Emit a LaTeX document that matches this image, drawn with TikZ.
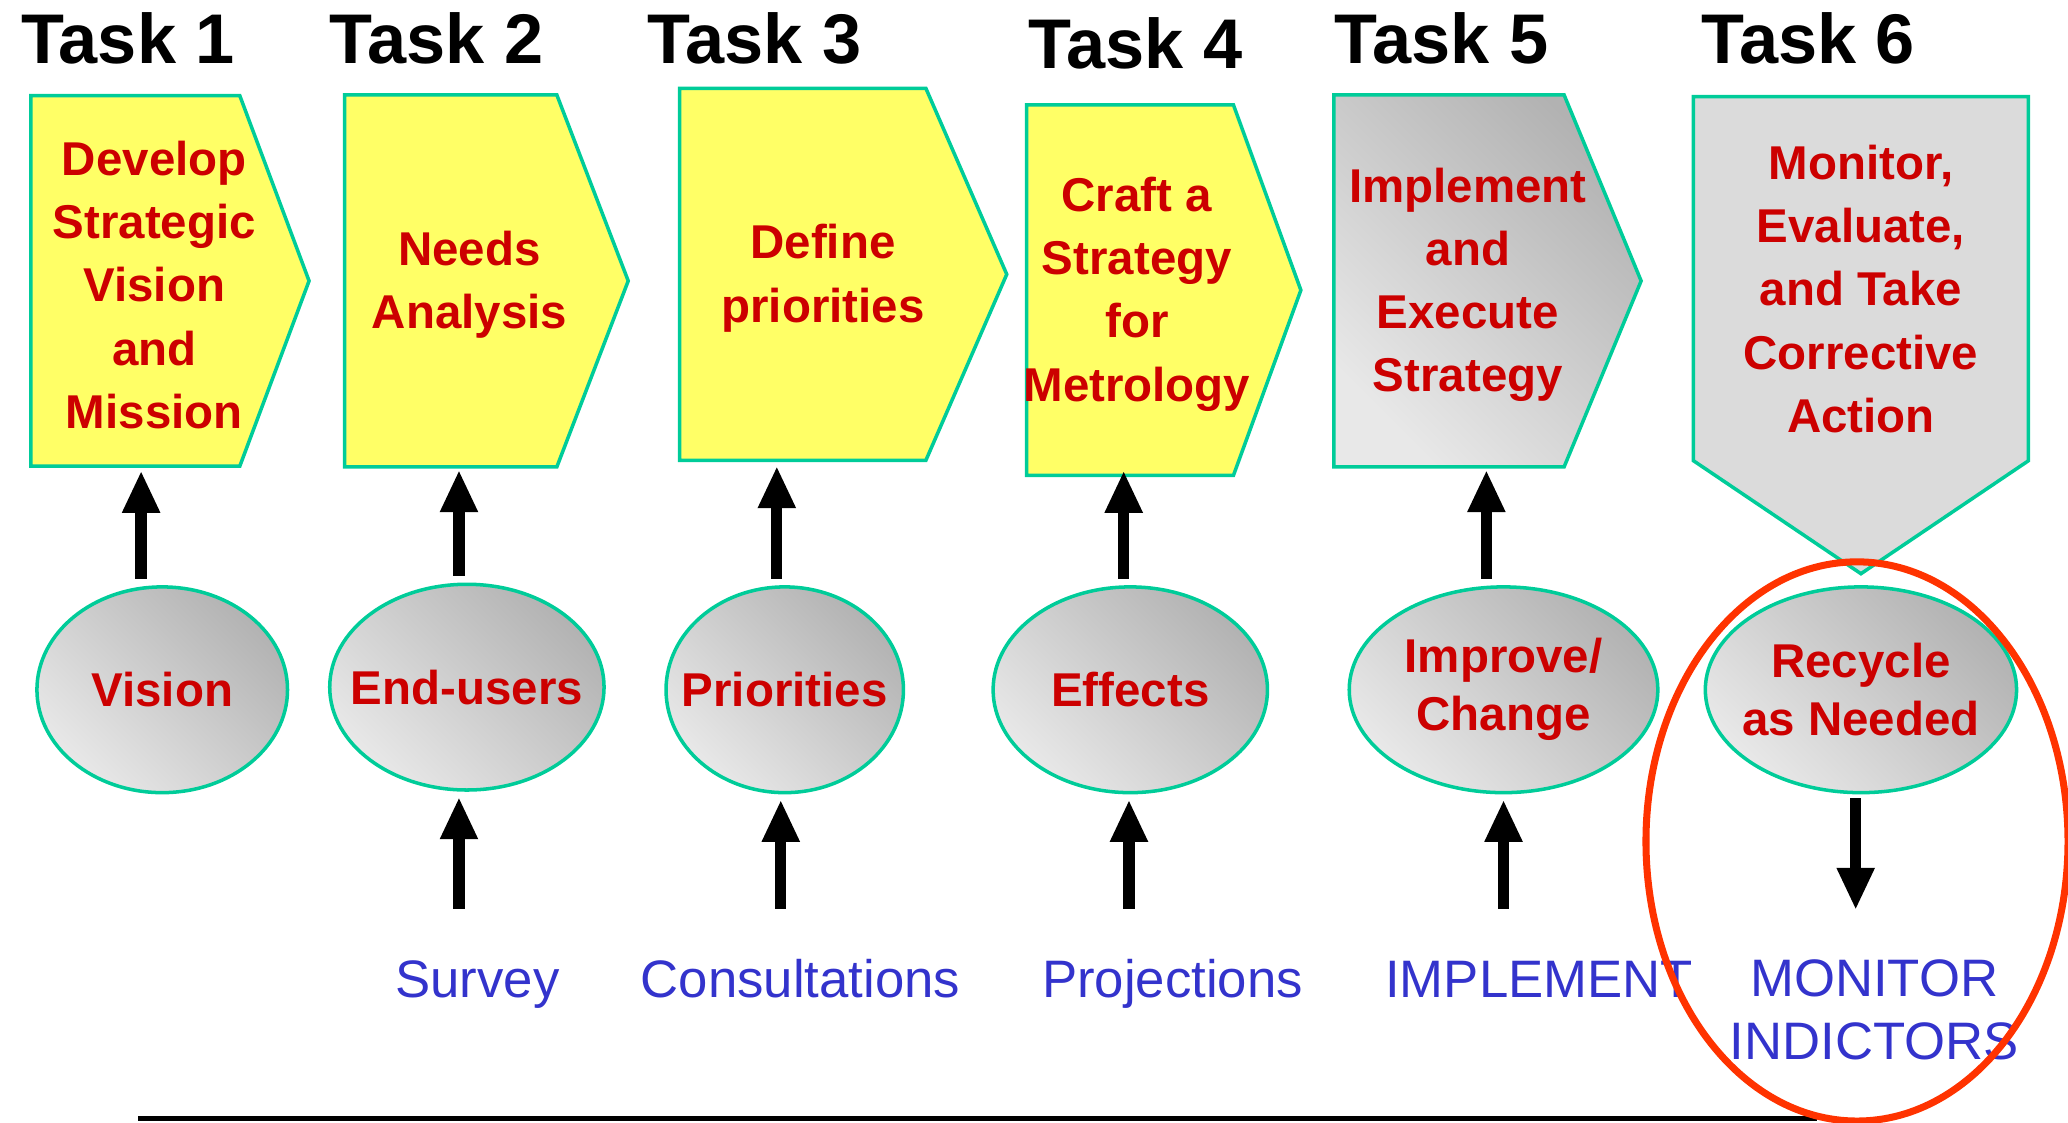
\documentclass[tikz,border=0pt]{standalone}
\usepackage{fontspec}
\setmainfont{Liberation Sans}
\usepackage{tikz}
\usetikzlibrary{arrows.meta,shapes.symbols,shapes.geometric}

\definecolor{padyellow}{HTML}{FFFF66}
\definecolor{rimteal}{HTML}{00CC99}
\definecolor{taskred}{HTML}{CC0000}
\definecolor{srcblue}{HTML}{3333CC}
\definecolor{ringred}{HTML}{FF3300}
\def\px{0.37515pt}

\tikzset{
	heading/.style={anchor=base, inner sep=0pt, font=\fontsize{20}{24}\selectfont\bfseries},
	taskbox/.style={signal, signal to=east, draw=rimteal, line width=1pt, fill=padyellow, anchor=west, inner sep=0pt},
	tasktext/.style={align=center, inner sep=0pt, text=taskred, font=\fontsize{13.5}{18}\selectfont\bfseries},
	greyfill/.style={top color=black!30, bottom color=black!9, shading angle=-45},
	factortext/.style={align=center, inner sep=0pt, text=taskred, font=\fontsize{13.5}{16.5}\selectfont\bfseries},
	factor/.style={ellipse, draw=rimteal, line width=1pt, inner sep=0pt, minimum height=156*\px, greyfill, label={[factortext]center:#1}},
	sourcetext/.style={inner sep=0pt, text=srcblue, font=\fontsize{15}{18}\selectfont},
	flow/.style={line width=3.2pt, -{Triangle[width=10pt,length=12pt]}},
}

\begin{document}
\begin{tikzpicture}[x=\px, y=-\px]
	\useasboundingbox (0,0) rectangle (1568,851);

	\foreach \n/\x/\y in {1/97/48, 2/331/48, 3/572/48, 4/861/52, 5/1093/48, 6/1371/48}
		\node[heading] (T\n) at (\x,\y) {Task \n};

	\node[taskbox, minimum width=211*\px, minimum height=281*\px, signal pointer angle=139] (B1) at (22,213) {};
	\node[taskbox, minimum width=215*\px, minimum height=282*\px, signal pointer angle=138] (B2) at (260,213) {};
	\node[taskbox, minimum width=248*\px, minimum height=282*\px, signal pointer angle=133] (B3) at (514,208) {};
	\node[taskbox, minimum width=208*\px, minimum height=281*\px, signal pointer angle=140] (B4) at (777,220) {};
	\node[taskbox, greyfill, minimum width=233*\px, minimum height=282*\px, signal pointer angle=135] (B5) at (1010,213) {};
	\node[taskbox, signal to=south, anchor=north, fill=black!14, minimum width=254*\px, minimum height=276*\px, signal pointer angle=112] (B6) at (1411,72) {};

	\node[tasktext] (D1) at (117,216) {Develop\\Strategic\\Vision\\and\\Mission};
	\node[tasktext] (D2) at (356,216) {Needs\\Analysis};
	\node[tasktext] (D3) at (624,211) {Define\\priorities};
	\node[tasktext] (D4) at (862,223) {Craft a\\Strategy\\for\\Metrology};
	\node[tasktext] (D5) at (1113,216) {Implement\\and\\Execute\\Strategy};
	\node[tasktext] (D6) at (1411,219) {Monitor,\\Evaluate,\\and Take\\Corrective\\Action};

	\node[factor={Vision}, minimum width=190*\px] (E1) at (123,523) {};
	\node[factor={End-users}, minimum width=208*\px] (E2) at (354,521) {};
	\node[factor={Priorities}, minimum width=180*\px] (E3) at (595,523) {};
	\node[factor={Effects}, minimum width=208*\px] (E4) at (857,523) {};
	\node[factor={Improve/\\Change}, minimum width=234*\px] (E5) at (1140,523) {};
	\node[factor={Recycle\\as Needed}, minimum width=236*\px] (E6) at (1411,523) {};

	\node[sourcetext, anchor=base, text height=11pt, text depth=3pt] (L2) at (362,756) {Survey};
	\node[sourcetext, anchor=base, text height=11pt, text depth=3pt] (L3) at (607,756) {Consultations};
	\node[sourcetext, anchor=base, text height=11pt, text depth=3pt] (L4) at (889,756) {Projections};
	\node[sourcetext, anchor=base, text height=11pt, text depth=3pt] (L5) at (1167,756) {IMPLEMENT};
	\node[sourcetext, anchor=north, align=center] (L6) at (1421,727) {MONITOR\\INDICTORS};

	\foreach \i/\dx/\gap in {1/-16/2, 2/-6/1, 3/-6/3, 4/-5/-5, 5/-13/1}
		\draw[flow, shorten <=5*\px, shorten >=\gap*\px] ([xshift=\dx*\px]E\i.north) -- ([xshift=\dx*\px]E\i.north |- B\i.south);
	\foreach \i/\dx in {2/-6, 3/-3, 4/-1, 5/0}
		\draw[flow, shorten <=37*\px, shorten >=4*\px] ([xshift=\dx*\px]E\i.south |- L\i.north) -- ([xshift=\dx*\px]E\i.south);
	\draw[flow, shorten <=3*\px, shorten >=37*\px] ([xshift=-4*\px]E6.south) -- ([xshift=-4*\px]E6.south |- L6.north);

	\coordinate (floor l) at (105,848);
	\coordinate (floor r) at (1378,848);
	\draw[line width=1.6pt] (floor l) -- (floor r);

	\node[ellipse, draw=ringred, line width=2pt, inner sep=0pt, minimum width=320*\px, minimum height=424*\px] (ring) at (1408,638) {};
\end{tikzpicture}
\end{document}
